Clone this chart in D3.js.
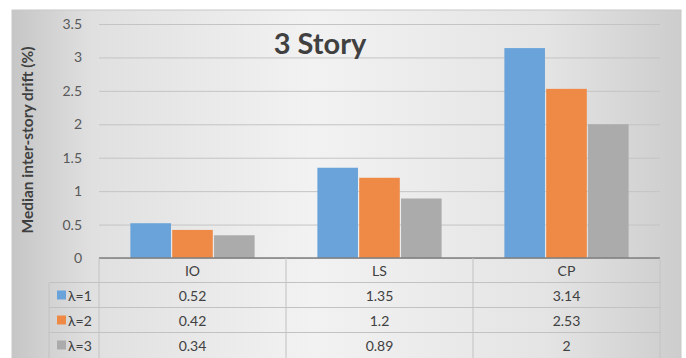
<!DOCTYPE html>
<html>
<head>
<meta charset="utf-8">
<script src="https://cdn.jsdelivr.net/npm/d3@7"></script>
<style>
  body { margin: 0; background: #fff; }
  svg { display: block; font-family: Lato, "Open Sans", sans-serif; }
</style>
</head>
<body>
<svg id="chart" width="686" height="358"></svg>
<script>
var categories = ["IO", "LS", "CP"]
var seriesNames = ["λ=1", "λ=2", "λ=3"]
var lambda1 = [0.52, 1.35, 3.14]
var lambda2 = [0.42, 1.2, 2.53]
var lambda3 = [0.34, 0.89, 2]
var yTicks = [0, 0.5, 1, 1.5, 2, 2.5, 3, 3.5]

var seriesValues = [lambda1, lambda2, lambda3]
var labelText = [["0.52", "1.35", "3.14"], ["0.42", "1.2", "2.53"], ["0.34", "0.89", "2"]]

var colors = ["#69a3d9", "#ee8946", "#ababab"]

var svg = d3.select("#chart")

// background panel with grey edges
var defs = svg.append("defs")
var grad = defs.append("linearGradient").attr("id", "bg").attr("x1", "0").attr("x2", "1").attr("y1", "0").attr("y2", "0")
grad.append("stop").attr("offset", "0").attr("stop-color", "#c6c6c6")
grad.append("stop").attr("offset", "0.12").attr("stop-color", "#e0e0e0")
grad.append("stop").attr("offset", "0.45").attr("stop-color", "#f2f2f2")
grad.append("stop").attr("offset", "0.8").attr("stop-color", "#e4e4e4")
grad.append("stop").attr("offset", "1").attr("stop-color", "#cdcdcd")

svg.append("rect")
   .attr("x", 12).attr("y", 10)
   .attr("width", 669).attr("height", 360)
   .attr("fill", "url(#bg)")
   .attr("stroke", "#c8c8c8")

var plotLeft = 99, plotRight = 660, plotTop = 24, plotBottom = 258

var x0 = d3.scaleBand()
           .domain(categories)
           .range([plotLeft, plotRight])

var x1 = d3.scaleBand()
           .domain(d3.range(seriesNames.length))
           .range([0, x0.bandwidth()])
           .paddingOuter(0.75)
           .paddingInner(0.03)

var yScale = d3.scaleLinear()
               .domain([0, 3.5])
               .range([plotBottom, plotTop])

// gridlines + tick labels
var yAxisGen = d3.axisLeft(yScale)
                 .tickValues(yTicks)
                 .tickSize(-(plotRight - plotLeft))
                 .tickPadding(17)
                 .tickFormat(d3.format("~g"))
var yAxis = svg.append("g")
               .attr("transform", `translate(${plotLeft},0)`)
               .call(yAxisGen)
yAxis.select(".domain").remove()
yAxis.selectAll("line").attr("stroke", "#c4c4c4").attr("stroke-width", 1)
yAxis.selectAll("text")
     .attr("fill", "#595959")
     .style("font-size", "14px")
     .style("font-family", "Lato, 'Open Sans', sans-serif")

// bars
var groups = svg.selectAll(".grp")
    .data(categories)
    .join("g")
    .attr("class", "grp")
    .attr("transform", d => `translate(${x0(d)},0)`)

groups.selectAll("rect")
    .data((d, i) => seriesValues.map((s, j) => ({ j: j, v: s[i] })))
    .join("rect")
    .attr("x", d => x1(d.j))
    .attr("width", x1.bandwidth())
    .attr("y", d => yScale(d.v))
    .attr("height", d => yScale(0) - yScale(d.v))
    .attr("fill", d => colors[d.j])

// baseline
svg.append("line")
   .attr("x1", plotLeft).attr("x2", plotRight)
   .attr("y1", yScale(0)).attr("y2", yScale(0))
   .attr("stroke", "#7f7f7f").attr("stroke-width", 1.5)

// data table
var rowH = 25
var headY = plotBottom
var tableLeft = 49
var gridCol = "#c2c2c2"

var tbl = svg.append("g")

// horizontal lines
for (var r = 1; r <= 3; r++) {
    tbl.append("line")
       .attr("x1", tableLeft).attr("x2", plotRight)
       .attr("y1", headY + r * rowH - 0.5).attr("y2", headY + r * rowH - 0.5)
       .attr("stroke", gridCol)
}
// vertical lines
var vx = [plotLeft].concat(categories.map(c => x0(c) + x0.bandwidth()))
vx.forEach(function(v) {
    tbl.append("line")
       .attr("x1", v).attr("x2", v)
       .attr("y1", headY).attr("y2", 358)
       .attr("stroke", gridCol)
})
tbl.append("line")
   .attr("x1", tableLeft).attr("x2", tableLeft)
   .attr("y1", headY + rowH).attr("y2", 358)
   .attr("stroke", gridCol)

// header
tbl.selectAll(".hdr")
   .data(categories)
   .join("text")
   .attr("x", d => x0(d) + x0.bandwidth() / 2)
   .attr("y", headY + 18)
   .attr("text-anchor", "middle")
   .attr("fill", "#404040")
   .style("font-size", "14px")
   .text(d => d)

seriesNames.forEach(function(name, j) {
    var yMid = headY + (j + 1) * rowH + rowH / 2
    tbl.append("rect")
       .attr("x", 57).attr("y", yMid - 5)
       .attr("width", 9).attr("height", 9)
       .attr("fill", colors[j])
    tbl.append("text")
       .attr("x", 68).attr("y", yMid + 5)
       .attr("fill", "#404040")
       .style("font-size", "14px")
       .text(name)
    tbl.selectAll(".v" + j)
       .data(categories)
       .join("text")
       .attr("x", d => x0(d) + x0.bandwidth() / 2)
       .attr("y", yMid + 5)
       .attr("text-anchor", "middle")
       .attr("fill", "#404040")
       .style("font-size", "14px")
       .text((d, i) => labelText[j][i])
})

// title
svg.append("text")
   .attr("x", 320).attr("y", 54)
   .attr("text-anchor", "middle")
   .attr("fill", "#404040")
   .style("font-size", "29px")
   .style("font-weight", "bold")
   .text("3 Story")

// y label
svg.append("text")
   .attr("transform", "translate(33,140) rotate(-90)")
   .attr("text-anchor", "middle")
   .attr("fill", "#404040")
   .style("font-size", "15.5px")
   .style("font-weight", "bold")
   .text("Median inter-story drift (%)")
</script>
</body>
</html>
